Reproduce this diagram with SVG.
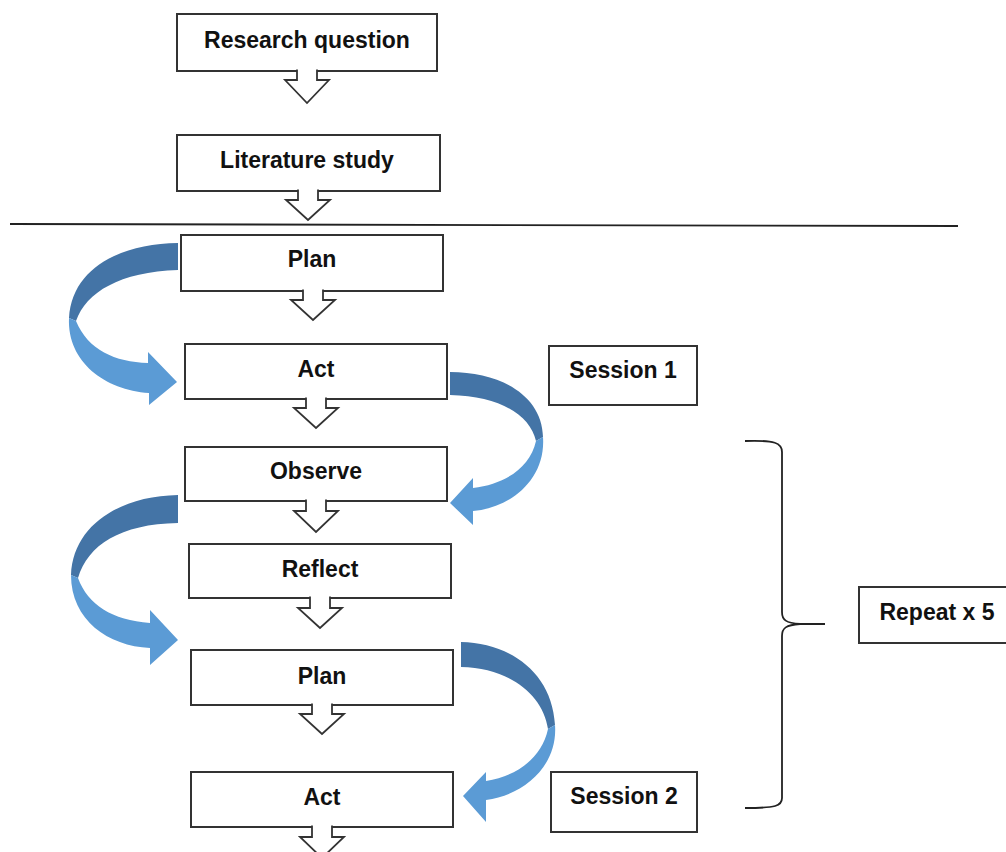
<svg xmlns="http://www.w3.org/2000/svg" width="1006" height="852" viewBox="0 0 1006 852">
<style>
.box{fill:#fff;stroke:#333;stroke-width:2}
.lbl{font-family:"Liberation Sans",Arial,sans-serif;font-weight:bold;font-size:23px;fill:#111;text-anchor:middle}
.da{fill:#fff;stroke:#333;stroke-width:1.8;stroke-linejoin:miter}
.dark{fill:#4474a6}
.light{fill:#5b9bd5}
.line{fill:none;stroke:#222;stroke-width:1.8}
</style>
<rect width="1006" height="852" fill="#fff"/>
<g id="nodes">
<g id="research-question"><rect class="box" x="177" y="14" width="260" height="57"/><text class="lbl" x="307" y="48">Research question</text></g>
<g id="literature-study"><rect class="box" x="177" y="135" width="263" height="56"/><text class="lbl" x="307" y="168">Literature study</text></g>
<g id="plan1"><rect class="box" x="181" y="235" width="262" height="56"/><text class="lbl" x="312" y="267">Plan</text></g>
<g id="act1"><rect class="box" x="185" y="344" width="262" height="55"/><text class="lbl" x="316" y="377">Act</text></g>
<g id="session1"><rect class="box" x="549" y="346" width="148" height="59"/><text class="lbl" x="623" y="378">Session 1</text></g>
<g id="observe"><rect class="box" x="185" y="447" width="262" height="54"/><text class="lbl" x="316" y="479">Observe</text></g>
<g id="reflect"><rect class="box" x="189" y="544" width="262" height="54"/><text class="lbl" x="320" y="577">Reflect</text></g>
<g id="plan2"><rect class="box" x="191" y="650" width="262" height="55"/><text class="lbl" x="322" y="684">Plan</text></g>
<g id="act2"><rect class="box" x="191" y="772" width="262" height="55"/><text class="lbl" x="322" y="805">Act</text></g>
<g id="session2"><rect class="box" x="551" y="772" width="146" height="60"/><text class="lbl" x="624" y="804">Session 2</text></g>
<g id="repeat"><rect class="box" x="859" y="587" width="160" height="56"/><text class="lbl" x="937" y="620">Repeat x 5</text></g>
</g>
<g id="decor">
<path class="line" d="M10,224 L958,226"/>
<path class="line" d="M745,441 C775,440 782,443 782,452 L782,612 C782,620 786,623 800,624 L825,624 M800,624 C786,625 782,628 782,636 L782,798 C782,806 776,808 745,808"/>
</g>
<g id="connectors">
<path class="da" d="M297,69.5 V80 H285 L307,103 L329,80 H317 V69.5"/>
<path class="da" d="M298,189.5 V200 H286 L308,220 L330,200 H318 V189.5"/>
<path class="da" d="M303,289.5 V300 H291 L313,320 L335,300 H323 V289.5"/>
<path class="da" d="M306,397.5 V408 H294 L316,428 L338,408 H326 V397.5"/>
<path class="da" d="M306,499.5 V511 H294 L316,532 L338,511 H326 V499.5"/>
<path class="da" d="M310,596.5 V608 H298 L320,628 L342,608 H330 V596.5"/>
<path class="da" d="M312,703.5 V714 H300 L322,734 L344,714 H332 V703.5"/>
<path class="da" d="M312,825.5 V837 H300 L322,858 L344,837 H332 V825.5"/>
<g id="curve-plan-act">
<path class="dark" d="M178,243 C120,244 72,268 69,318 L76,321 C86,292 120,272 178,270 Z"/>
<path class="light" d="M69,318 C67,362 105,390 149,393 L149,405 L177,382 L148,352 L148,363 C115,362 88,350 76,321 Z"/>
</g>
<g id="curve-act-observe">
<path class="dark" d="M450,372 C500,372 542,395 543,437 L536,441 C530,415 500,396 450,395 Z"/>
<path class="light" d="M543,437 C546,480 510,508 473,511 L473,525 L450,503 L473,478 L473,488 C505,484 530,468 536,441 Z"/>
</g>
<g id="curve-observe-plan">
<path class="dark" d="M178,495 C120,496 73,525 71,575 L78,578 C88,545 120,524 178,523 Z"/>
<path class="light" d="M71,575 C71,620 108,646 150,648 L150,665 L178,640 L150,610 L150,623 C112,620 88,605 78,578 Z"/>
</g>
<g id="curve-plan-act2">
<path class="dark" d="M461,642 C510,643 552,672 555,725 L548,729 C543,695 510,668 461,667 Z"/>
<path class="light" d="M555,725 C558,765 525,795 486,800 L486,822 L463,796 L486,772 L486,781 C518,776 542,757 548,729 Z"/>
</g>
</g>
</svg>
